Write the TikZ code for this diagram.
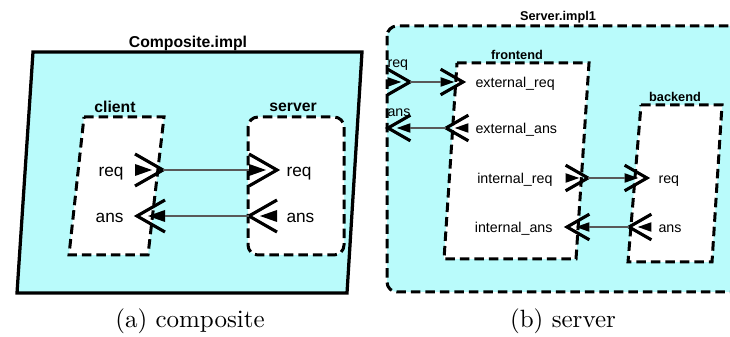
\documentclass[tikz,border=0pt]{standalone}
\usepackage{fontspec}
\newfontfamily\diagfont{Liberation Sans}
\usepackage{xcolor}
\usepackage{tikz}

\definecolor{implcyan}{RGB}{185,251,251}

\begin{document}
\begin{tikzpicture}[x=0.4pt, y=-0.4pt, every node/.style={inner sep=0pt}]

% Styles
\tikzstyle{frame} = [line width=1.3pt]
\tikzstyle{border} = [line width=1.2pt, dash pattern=on 3.8pt off 2pt]
\tikzstyle{link} = [black!65, line width=0.45pt]
\tikzstyle{portline} = [line width=1.25pt]
\tikzstyle{title} = [font=\diagfont\bfseries\fontsize{6.3}{7}\selectfont]
\tikzstyle{smalltitle} = [font=\diagfont\bfseries\fontsize{5.1}{6}\selectfont]
\tikzstyle{portlabel} = [font=\diagfont\fontsize{6.9}{8}\selectfont]
\tikzstyle{smalllabel} = [font=\diagfont\fontsize{5.7}{7}\selectfont]
\tikzstyle{caption} = [font=\normalfont\fontsize{10}{12}\selectfont]

% port symbol: chevron with a filled triangle, tip at the origin
\tikzset{
  outport/.pic={
    \coordinate (-tip) at (0,0);
    \coordinate (-tail) at (-28,0);
    \fill (-28,6) -- (-11,0) -- (-28,-6) -- cycle;
    \draw[portline] (-28,16) -- (0,0) -- (-28,-16);
  }
}

\useasboundingbox (0,0) rectangle (730,337);

% Composite.impl
\draw[frame, fill=implcyan] (33,52) -- (362,52) -- (347,293) -- (17,293) -- cycle;
\node[title] (comptitle) at (188,43) {Composite.impl};

\draw[border, fill=white] (84,117) -- (164,117) -- (148,255) -- (69,255) -- cycle;
\node[title] (clienttitle) at (115,107) {client};

\draw[border, fill=white, rounded corners=4pt] (248,117) rectangle (344,255);
\node[title] (servertitle) at (293,107) {server};

% Ports
\pic (creq) at (163,170) {outport};
\pic[rotate=180] (cans) at (137,216) {outport};
\pic (sreq) at (277,170) {outport};
\pic[rotate=180] (sans) at (249,216) {outport};

\node[portlabel, anchor=mid east] (creqlabel) at (124,171) {req};
\node[portlabel, anchor=mid east] (canslabel) at (124,217) {ans};
\node[portlabel, anchor=mid west] (sreqlabel) at (286,171) {req};
\node[portlabel, anchor=mid west] (sanslabel) at (286,217) {ans};

% Arrows
\draw[link] (creq-tip) -- (sreq-tail);
\draw[link] (sans-tip) -- (cans-tail);

% Server.impl1
\begin{scope}
  \clip (0,0) rectangle (730,337);
  \draw[border, fill=implcyan, rounded corners=4pt] (387,26) rectangle (760,292);
\end{scope}
\node[smalltitle] (srvtitle) at (558,17) {Server.impl1};

\draw[border, fill=white] (457,63) -- (589,63) -- (576,259) -- (444,259) -- cycle;
\node[smalltitle] (fronttitle) at (517,55) {frontend};

\draw[border, fill=white] (641,105) -- (722,105) -- (712,262) -- (628,262) -- cycle;
\node[smalltitle] (backtitle) at (675,97) {backend};

% Ports
\pic[scale=0.8] (oreq) at (410,82) {outport};
\pic[scale=0.8, rotate=180] (oans) at (388,128) {outport};
\pic[scale=0.8] (ereq) at (463,82) {outport};
\pic[scale=0.8, rotate=180] (eans) at (446,128) {outport};
\pic[scale=0.8] (ireq) at (588,178) {outport};
\pic[scale=0.8, rotate=180] (ians) at (567,227) {outport};
\pic[scale=0.8] (breq) at (647,178) {outport};
\pic[scale=0.8, rotate=180] (bans) at (629,227) {outport};

\node[smalllabel, anchor=mid west] (oreqlabel) at (387,62) {req};
\node[smalllabel, anchor=mid west] (oanslabel) at (387,111) {ans};
\node[smalllabel, anchor=mid west] (ereqlabel) at (475,82) {external\_req};
\node[smalllabel, anchor=mid west] (eanslabel) at (475,128) {external\_ans};
\node[smalllabel, anchor=mid east] (ireqlabel) at (553,178) {internal\_req};
\node[smalllabel, anchor=mid east] (ianslabel) at (553,227) {internal\_ans};
\node[smalllabel, anchor=mid west] (breqlabel) at (658,178) {req};
\node[smalllabel, anchor=mid west] (banslabel) at (658,227) {ans};

% Arrows
\draw[link] (oreq-tip) -- (ereq-tail);
\draw[link] (eans-tip) -- (oans-tail);
\draw[link] (ireq-tip) -- (breq-tail);
\draw[link] (bans-tip) -- (ians-tail);

% Captions
\node[caption] (capa) at (190,321) {(a) composite};
\node[caption] (capb) at (563,321) {(b) server};

\end{tikzpicture}
\end{document}
